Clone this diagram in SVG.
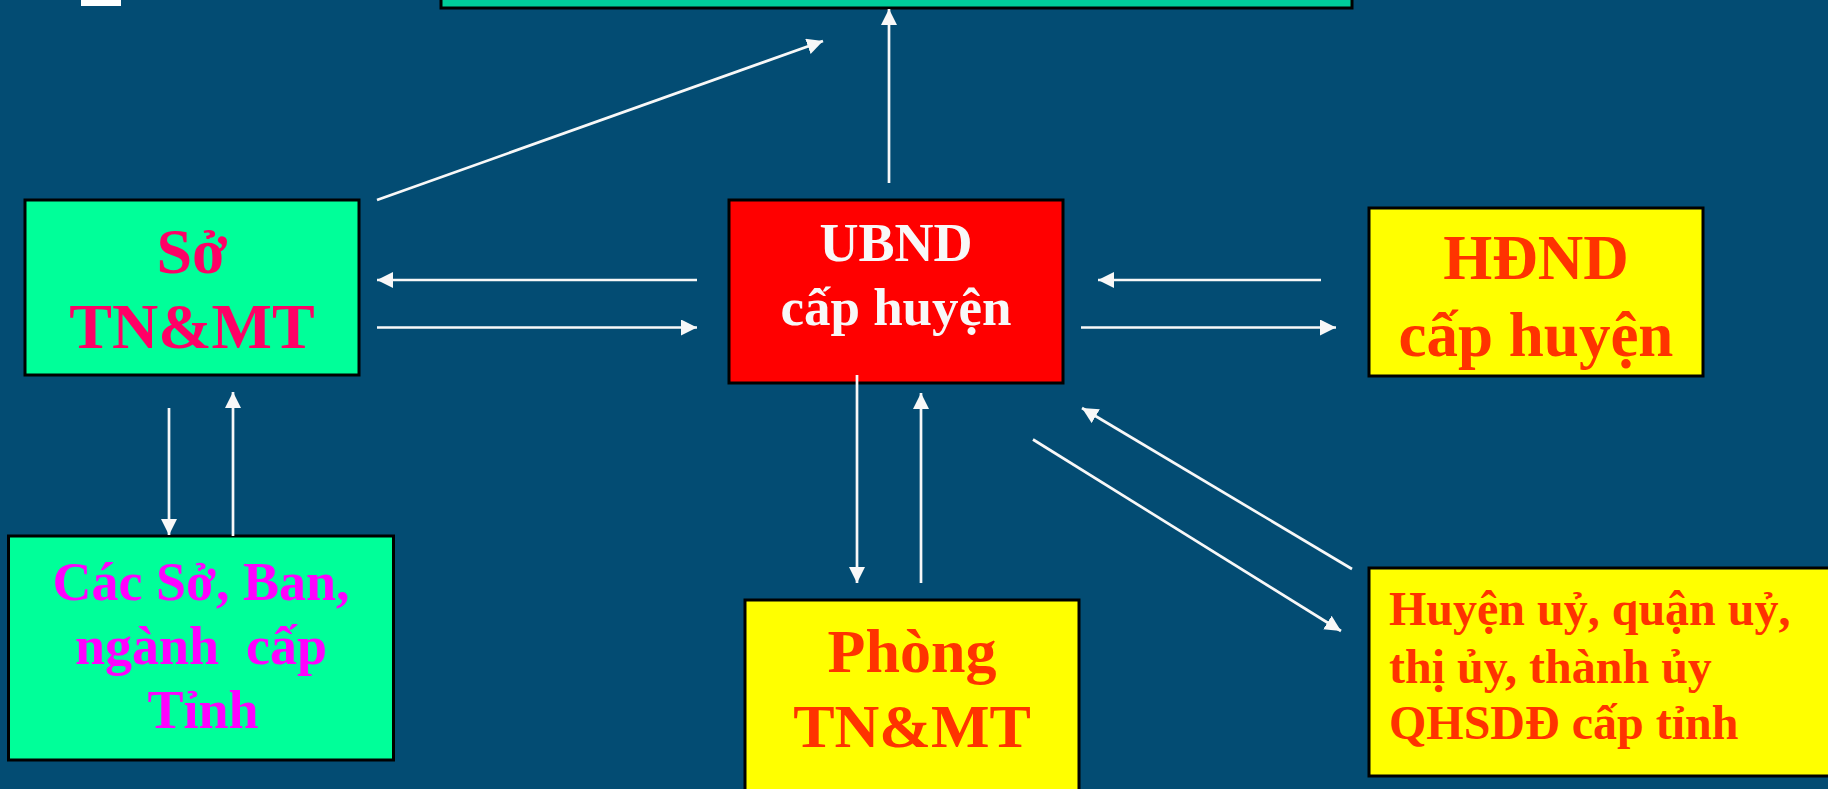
<svg xmlns="http://www.w3.org/2000/svg" width="1828" height="789" viewBox="0 0 1828 789">
<defs>
<marker id="ah" markerUnits="userSpaceOnUse" markerWidth="16" markerHeight="16" viewBox="0 0 16 16" refX="16" refY="8" orient="auto">
<path d="M0,0 L16,8 L0,16 z" fill="#F8F8F8"/>
</marker>
<style>
.box{stroke:#000;stroke-width:3}
.t{font-family:"Liberation Serif","Times New Roman",serif;font-weight:bold;text-anchor:middle}
.l{font-family:"Liberation Serif","Times New Roman",serif;font-weight:bold}
.c line{stroke:#F8F8F8;stroke-width:2.7;marker-end:url(#ah)}
</style>
</defs>
<rect x="0" y="0" width="1828" height="789" fill="#034C73"/>
<rect x="81" y="0" width="40" height="6" fill="#FFFFFF"/>
<g id="top">
<rect class="box" x="441" y="-10" width="911" height="18" fill="#00CC99"/>
</g>
<g id="so-tnmt">
<rect class="box" x="25" y="200" width="334" height="175" fill="#00FF99"/>
<text class="t" x="192" y="273" font-size="64" fill="#FF0066">Sở</text>
<text class="t" x="192" y="348" font-size="64" fill="#FF0066">TN&amp;MT</text>
</g>
<g id="ubnd">
<rect class="box" x="729" y="200" width="334" height="183" fill="#FF0000"/>
<text class="t" x="896" y="261" font-size="54" fill="#F8F8F8">UBND</text>
<text class="t" x="896" y="325" font-size="53" fill="#F8F8F8">cấp huyện</text>
</g>
<g id="hdnd">
<rect class="box" x="1369" y="208" width="334" height="168" fill="#FFFF00"/>
<text class="t" x="1536" y="279" font-size="63" fill="#FF3300">HĐND</text>
<text class="t" x="1536" y="356" font-size="63" fill="#FF3300">cấp huyện</text>
</g>
<g id="cac-so">
<rect class="box" x="8.5" y="536" width="385" height="224" fill="#00FF99"/>
<text class="t" x="201" y="600" font-size="54" fill="#FF00FF">Các Sở, Ban,</text>
<text class="t" x="201" y="664" font-size="54" fill="#FF00FF" xml:space="preserve">ngành  cấp</text>
<text class="t" x="203" y="728" font-size="54" fill="#FF00FF">Tỉnh</text>
</g>
<g id="phong-tnmt">
<rect class="box" x="745" y="600" width="334" height="210" fill="#FFFF00"/>
<text class="t" x="912" y="672" font-size="62" fill="#FF3300">Phòng</text>
<text class="t" x="912" y="747" font-size="62" fill="#FF3300">TN&amp;MT</text>
</g>
<g id="huyen-uy">
<rect class="box" x="1369" y="568" width="480" height="208" fill="#FFFF00"/>
<text class="l" x="1389" y="625" font-size="48" fill="#FF3300">Huyện uỷ, quận uỷ,</text>
<text class="l" x="1389" y="683" font-size="48" fill="#FF3300">thị ủy, thành ủy</text>
<text class="l" x="1389" y="739" font-size="48" fill="#FF3300">QHSDĐ cấp tỉnh</text>
</g>
<g id="connectors" class="c">
<line x1="377" y1="200" x2="823" y2="41"/>
<line x1="889" y1="183" x2="889" y2="9"/>
<line x1="697" y1="280" x2="377" y2="280"/>
<line x1="377" y1="327.5" x2="697" y2="327.5"/>
<line x1="1321" y1="280" x2="1098" y2="280"/>
<line x1="1081" y1="327.5" x2="1336" y2="327.5"/>
<line x1="169" y1="408" x2="169" y2="535"/>
<line x1="233" y1="536" x2="233" y2="392"/>
<line x1="857" y1="375" x2="857" y2="583"/>
<line x1="921" y1="583" x2="921" y2="393"/>
<line x1="1352" y1="569" x2="1082" y2="408"/>
<line x1="1033" y1="439.5" x2="1341" y2="631"/>
</g>
</svg>
